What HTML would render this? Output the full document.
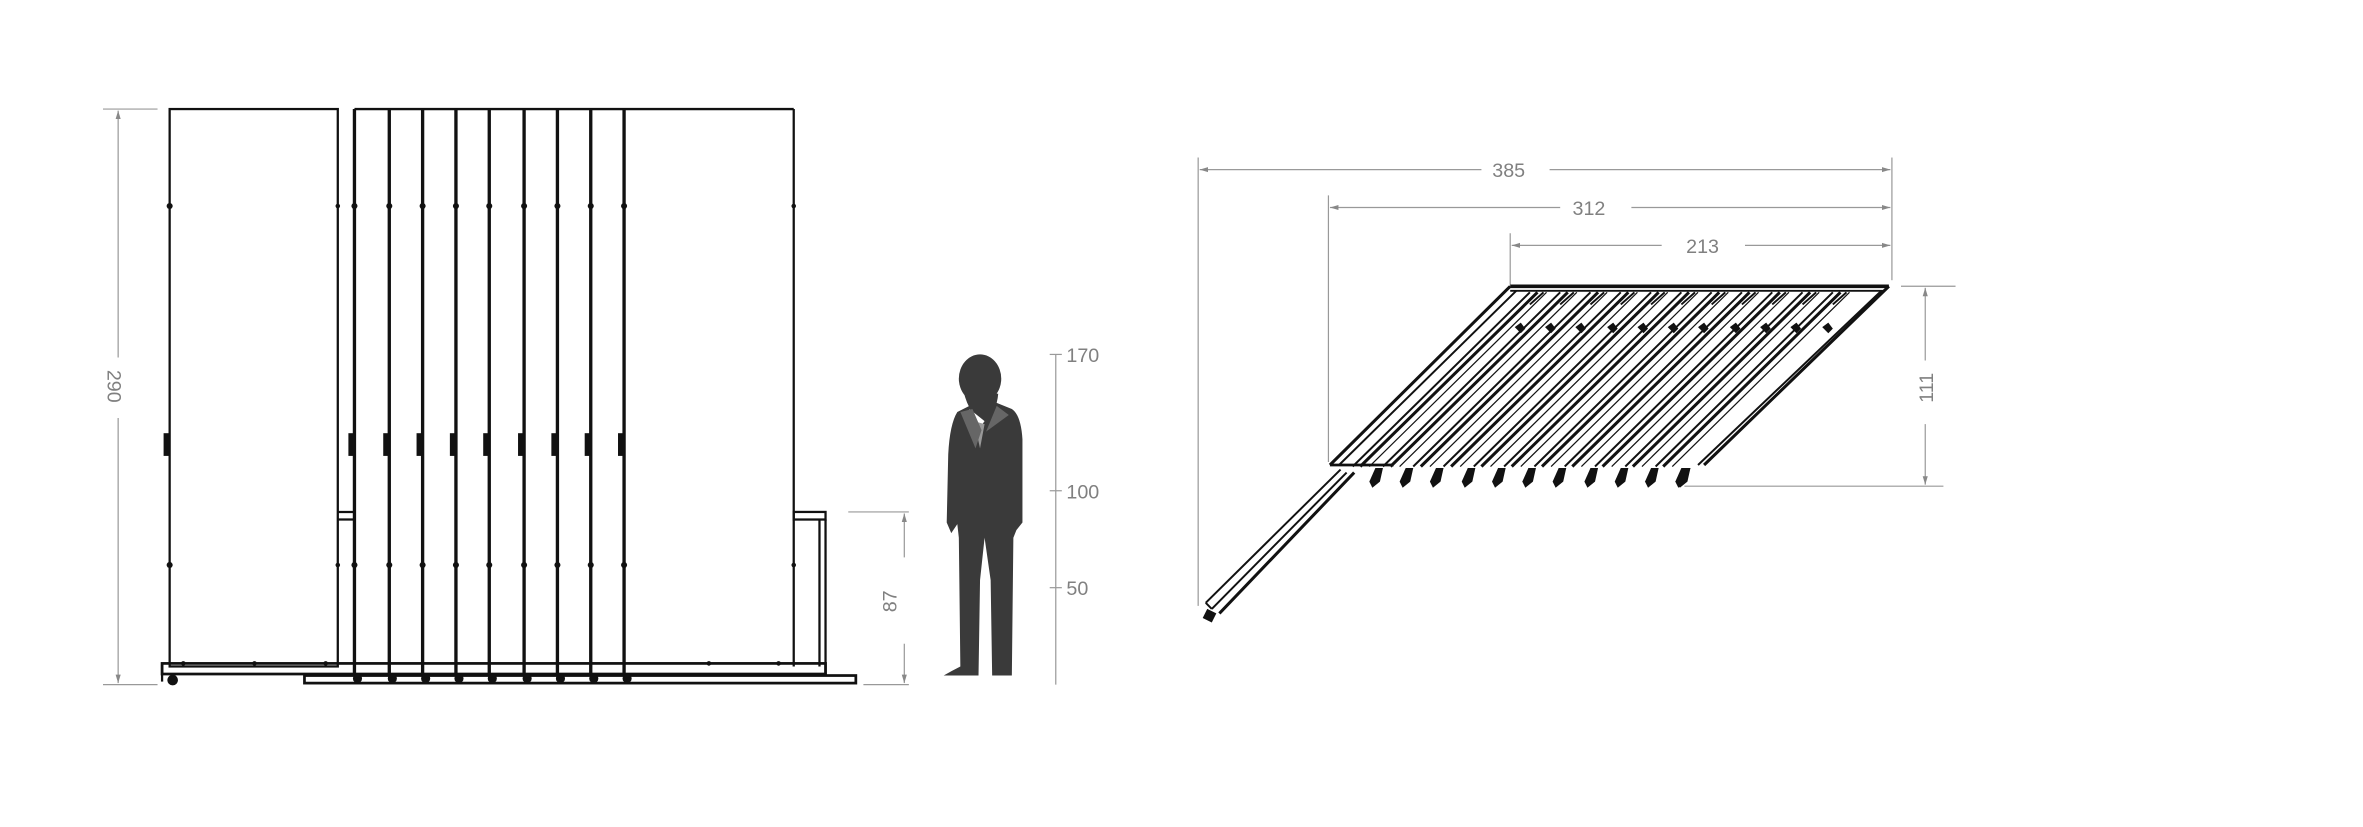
<!DOCTYPE html>
<html><head><meta charset="utf-8"><style>
html,body{margin:0;padding:0;background:#fff;}
svg{display:block;}
text{font-family:"Liberation Sans",sans-serif;fill:#808080;font-size:13px;}
</style></head><body>
<svg width="2363" height="827" viewBox="0 0 1560 546" preserveAspectRatio="none" xmlns="http://www.w3.org/2000/svg">
<defs>
<marker id="a" viewBox="0 0 10 10" refX="10" refY="5" markerWidth="7" markerHeight="7" orient="auto-start-reverse"><path d="M0,2 L10,5 L0,8 z" fill="#888"/></marker>
</defs>
<g stroke="#999" stroke-width="0.8" fill="none">
<line x1="68" y1="72" x2="104" y2="72"/><line x1="68" y1="452" x2="104" y2="452"/>
<line x1="78" y1="236" x2="78" y2="73" marker-end="url(#a)"/>
<line x1="78" y1="276" x2="78" y2="451" marker-end="url(#a)"/>
<line x1="560" y1="338" x2="600" y2="338"/><line x1="570" y1="452" x2="600" y2="452"/>
<line x1="597" y1="368" x2="597" y2="339" marker-end="url(#a)"/>
<line x1="597" y1="425" x2="597" y2="451" marker-end="url(#a)"/>
<line x1="697" y1="234" x2="697" y2="452"/>
<line x1="693" y1="234" x2="701" y2="234"/><line x1="693" y1="324" x2="701" y2="324"/><line x1="693" y1="388" x2="701" y2="388"/>
<line x1="791" y1="104" x2="791" y2="400"/><line x1="1249" y1="104" x2="1249" y2="185"/>
<line x1="877" y1="129" x2="877" y2="305"/><line x1="997" y1="154" x2="997" y2="188"/>
<line x1="978" y1="112" x2="792" y2="112" marker-end="url(#a)"/>
<line x1="1023" y1="112" x2="1248" y2="112" marker-end="url(#a)"/>
<line x1="1030" y1="137" x2="878" y2="137" marker-end="url(#a)"/>
<line x1="1077" y1="137" x2="1248" y2="137" marker-end="url(#a)"/>
<line x1="1097" y1="162" x2="998" y2="162" marker-end="url(#a)"/>
<line x1="1152" y1="162" x2="1248" y2="162" marker-end="url(#a)"/>
<line x1="1255" y1="189" x2="1291" y2="189"/><line x1="1112" y1="321" x2="1283" y2="321"/>
<line x1="1271" y1="238" x2="1271" y2="190" marker-end="url(#a)"/>
<line x1="1271" y1="280" x2="1271" y2="320" marker-end="url(#a)"/>
</g>
<text transform="translate(71,255) rotate(90)" text-anchor="middle" font-size="15">290</text>
<text transform="translate(592,397) rotate(-90)" text-anchor="middle" font-size="14">87</text>
<text x="704" y="239">170</text><text x="704" y="329">100</text><text x="704" y="393">50</text>
<text x="996" y="117" text-anchor="middle">385</text>
<text x="1049" y="142" text-anchor="middle">312</text>
<text x="1124" y="167" text-anchor="middle">213</text>
<text transform="translate(1276,256) rotate(-90)" text-anchor="middle">111</text>

<g stroke="#111" fill="none" stroke-width="1.5">
<rect x="112" y="72" width="111" height="368"/>
<line x1="234" y1="72" x2="524" y2="72"/>
<line x1="524" y1="72" x2="524" y2="440"/>
<line x1="223" y1="338" x2="234" y2="338"/><line x1="223" y1="343" x2="234" y2="343"/>
<rect x="524" y="338" width="21" height="5"/>
<line x1="541" y1="343" x2="541" y2="440"/><line x1="545" y1="343" x2="545" y2="446"/>
<rect x="107" y="438" width="438" height="7" stroke-width="1.8"/>
<rect x="201" y="446" width="364" height="5" stroke-width="1.8"/>
<line x1="107" y1="438" x2="107" y2="450"/>
</g>
<g stroke="#111" stroke-width="2.2">
<line x1="234" y1="72" x2="234" y2="445"/><line x1="257" y1="72" x2="257" y2="445"/>
<line x1="279" y1="72" x2="279" y2="445"/><line x1="301" y1="72" x2="301" y2="445"/>
<line x1="323" y1="72" x2="323" y2="445"/><line x1="346" y1="72" x2="346" y2="445"/>
<line x1="368" y1="72" x2="368" y2="445"/><line x1="390" y1="72" x2="390" y2="445"/>
<line x1="412" y1="72" x2="412" y2="445"/>
</g>
<g fill="#111">
<g id="dots">
<circle cx="112" cy="136" r="2"/><circle cx="223" cy="136" r="1.5"/><circle cx="234" cy="136" r="2"/><circle cx="257" cy="136" r="2"/><circle cx="279" cy="136" r="2"/><circle cx="301" cy="136" r="2"/><circle cx="323" cy="136" r="2"/><circle cx="346" cy="136" r="2"/><circle cx="368" cy="136" r="2"/><circle cx="390" cy="136" r="2"/><circle cx="412" cy="136" r="2"/><circle cx="524" cy="136" r="1.5"/>
</g>
<use href="#dots" y="237"/>
<rect x="108" y="286" width="4" height="15"/><rect x="230" y="286" width="4" height="15"/><rect x="253" y="286" width="4" height="15"/><rect x="275" y="286" width="4" height="15"/><rect x="297" y="286" width="4" height="15"/><rect x="319" y="286" width="4" height="15"/><rect x="342" y="286" width="4" height="15"/><rect x="364" y="286" width="4" height="15"/><rect x="386" y="286" width="4" height="15"/><rect x="408" y="286" width="4" height="15"/>
<circle cx="114" cy="449" r="3.5"/>
<circle cx="236" cy="448" r="3"/><circle cx="259" cy="448" r="3"/><circle cx="281" cy="448" r="3"/><circle cx="303" cy="448" r="3"/><circle cx="325" cy="448" r="3"/><circle cx="348" cy="448" r="3"/><circle cx="370" cy="448" r="3"/><circle cx="392" cy="448" r="3"/><circle cx="414" cy="448" r="3"/>
<circle cx="121" cy="438" r="1.5"/><circle cx="168" cy="438" r="1.5"/><circle cx="215" cy="438" r="1.5"/><circle cx="468" cy="438" r="1.5"/><circle cx="514" cy="438" r="1.5"/>
</g>

<g fill="#3a3a3a">
<ellipse cx="647" cy="250" rx="14" ry="16"/>
<path d="M636,258 Q640,275 650,278 Q658,272 659,260 Z"/>
<path d="M640,268 L632,272 Q627,280 626,300 L625,345 L628,352 L632,346 L633,355 L634,440 Q628,443 623,446 L646,446 L647,383 L650,355 L654,383 L655,446 L668,446 L669,355 L671,350 L675,345 L675,290 Q674,274 668,270 L658,266 Z"/>
</g>
<path d="M640,270 L645,285 L650,278 Z" fill="#fff"/>
<path d="M643,278 L647,296 L650,280 Z" fill="#999"/>
<path d="M634,272 L644,296 L648,284 L642,270 Z M658,268 L646,297 L651,285 L666,274 Z" fill="#666"/>

<g stroke="#111" fill="none" stroke-width="1.3">
<line x1="997" y1="189" x2="1247" y2="189" stroke-width="2.4"/>
<line x1="997" y1="192" x2="1243" y2="192"/>
<line x1="997" y1="189" x2="878" y2="307" stroke-width="2"/>
<line x1="1001" y1="192" x2="884" y2="307"/>
<line x1="878" y1="307" x2="920" y2="307" stroke-width="1.8"/>
<line x1="1247" y1="189" x2="1125" y2="307" stroke-width="2"/>
<line x1="1242" y1="192" x2="1121" y2="307"/>
<g id="slat">
<line x1="1010" y1="193" x2="893" y2="308"/>
<line x1="1015" y1="193" x2="898" y2="308" stroke-width="2"/>
<line x1="1021" y1="193" x2="904" y2="308" stroke-width="0.8"/>
<line x1="1019" y1="193" x2="1010" y2="201"/>
</g>
<use href="#slat" x="20"/><use href="#slat" x="40"/><use href="#slat" x="60"/><use href="#slat" x="80"/><use href="#slat" x="100"/><use href="#slat" x="120"/><use href="#slat" x="140"/><use href="#slat" x="160"/><use href="#slat" x="180"/><use href="#slat" x="200"/>
<line x1="889" y1="312" x2="800" y2="402"/>
<line x1="894" y1="312" x2="805" y2="405" stroke-width="2"/>
<line x1="885" y1="310" x2="796" y2="398"/>
<line x1="796" y1="398" x2="800" y2="402"/>
</g>
<g fill="#111">
<g id="foot"><path d="M908,309 L913,309 L911,318 L906,322 L904,318 Z"/><path d="M1000,216 l4,-3 l3,4 l-3,3 z"/></g>
<use href="#foot" x="20"/><use href="#foot" x="40"/><use href="#foot" x="61"/><use href="#foot" x="81"/><use href="#foot" x="101"/><use href="#foot" x="121"/><use href="#foot" x="142"/><use href="#foot" x="162"/><use href="#foot" x="182"/><use href="#foot" x="203"/>
<path d="M1110,309 L1116,309 L1113,318 L1108,322 L1106,318 Z"/>
<path d="M797,402 L803,405 L800,411 L794,408 Z"/>
</g>
</svg>
</body></html>
